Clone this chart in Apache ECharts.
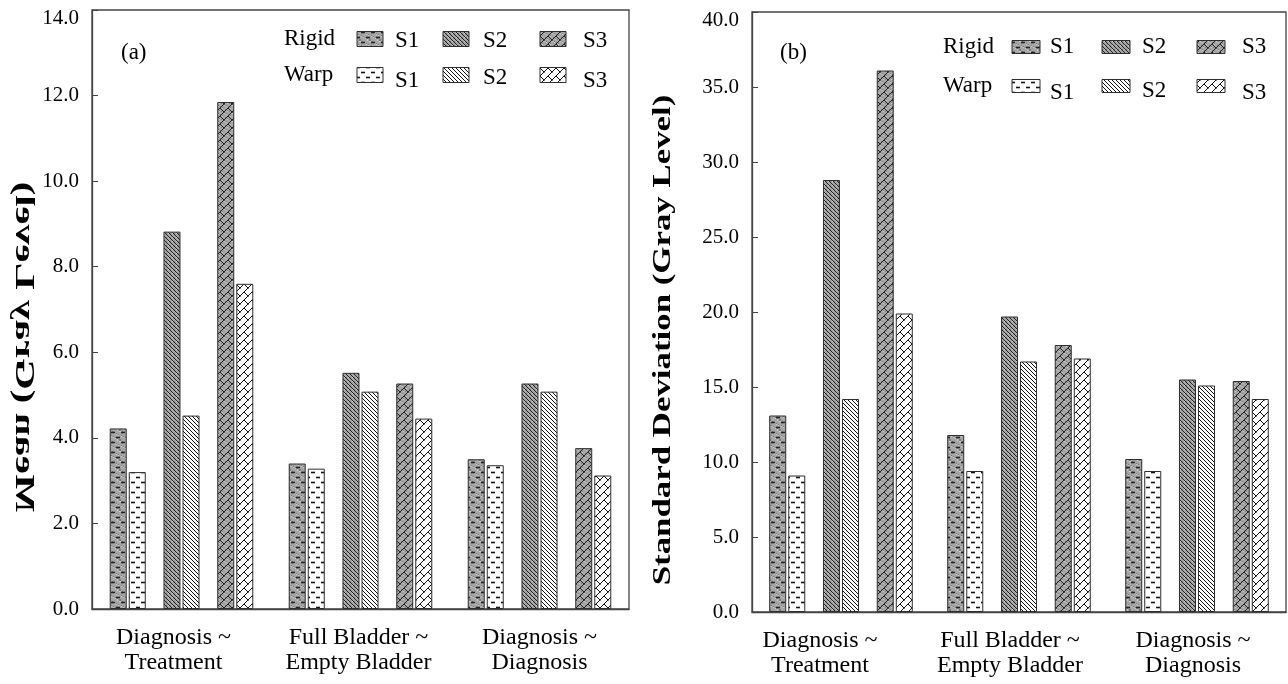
<!DOCTYPE html>
<html>
<head>
<meta charset="utf-8">
<script src="https://cdn.jsdelivr.net/npm/echarts@6/dist/echarts.min.js"></script>
<style>
  html, body { margin: 0; padding: 0; background: #fff; }
  #main { width: 1288px; height: 684px; }
</style>
</head>
<body>
<div id="main"></div>
<script>
// categories on the x axis (both panels)
var categories = ['Diagnosis ~\nTreatment', 'Full Bladder ~\nEmpty Bladder', 'Diagnosis ~\nDiagnosis'];
var setNames = ['S1', 'S2', 'S3'];

// (a) mean gray level
var meanRigidS1 = [4.22, 3.40, 3.50];
var meanWarpS1  = [3.20, 3.28, 3.36];
var meanRigidS2 = [8.82, 5.52, 5.27];
var meanWarpS2  = [4.52, 5.08, 5.08];
var meanRigidS3 = [11.85, 5.27, 3.76];
var meanWarpS3  = [7.60, 4.45, 3.12];

// (b) standard deviation
var sdRigidS1 = [13.1, 11.8, 10.2];
var sdWarpS1  = [9.1, 9.4, 9.4];
var sdRigidS2 = [28.8, 19.7, 15.5];
var sdWarpS2  = [14.2, 16.7, 15.1];
var sdRigidS3 = [36.1, 17.8, 15.4];
var sdWarpS3  = [19.9, 16.9, 14.2];

// axis ranges
var meanTicks = { min: 0, max: 14, interval: 2 };
var sdTicks = { min: 0, max: 40, interval: 5 };

var FONT = '"Liberation Serif", "DejaVu Serif", serif';

// ---- hatch patterns (drawn on small canvases) ----
function tile(w, h, gray, draw) {
  var c = document.createElement('canvas');
  c.width = w; c.height = h;
  var ctx = c.getContext('2d');
  ctx.fillStyle = gray ? '#a6a6a6' : '#ffffff';
  ctx.fillRect(0, 0, w, h);
  if (gray) {
    // stipple texture
    for (var x = 0; x < w; x++) {
      for (var y = 0; y < h; y++) {
        var k = (x * 7 + y * 13) % 9;
        if (k === 0) { ctx.fillStyle = '#7a7a7a'; ctx.fillRect(x, y, 1, 1); }
        else if (k === 4) { ctx.fillStyle = '#cccccc'; ctx.fillRect(x, y, 1, 1); }
      }
    }
  }
  ctx.strokeStyle = gray ? '#222' : '#111';
  ctx.lineWidth = 1;
  draw(ctx);
  return { image: c, repeat: 'repeat' };
}
function seg(ctx, x1, y1, x2, y2) {
  ctx.beginPath(); ctx.moveTo(x1, y1); ctx.lineTo(x2, y2); ctx.stroke();
}
function dashes(ctx) {
  ctx.lineWidth = 1.6;
  seg(ctx, 1, 2.5, 5, 2.5);
  seg(ctx, 6, 7.5, 10, 7.5);
}
function backDiag(ctx) {
  seg(ctx, -1, -1, 5, 5);
  seg(ctx, -1, 3, 1, 5);
  seg(ctx, 3, -1, 5, 1);
}
function bricks(ctx) {
  seg(ctx, -1, 9, 9, -1);
  seg(ctx, -1, 1, 1, -1);
  seg(ctx, 7, 9, 9, 7);
  seg(ctx, 4, 4, 8, 8);
  seg(ctx, 0, 0, 0.5, 0.5);
}
var fills = {
  rigid: [tile(10, 10, true, dashes), tile(4, 4, true, backDiag), tile(8, 8, true, bricks)],
  warp:  [tile(10, 10, false, dashes), tile(4, 4, false, backDiag), tile(8, 8, false, bricks)]
};

// ---- series for one panel ----
function panelSeries(gridIdx, rigid, warp) {
  var out = [];
  for (var i = 0; i < 3; i++) {
    if (i > 0) {
      // empty spacer between the S-pairs
      out.push({ type: 'bar', name: 'gap', xAxisIndex: gridIdx, yAxisIndex: gridIdx,
        data: [null, null, null], barWidth: 14, barGap: '12%', silent: true });
    }
    out.push({ type: 'bar', name: 'Rigid ' + setNames[i], xAxisIndex: gridIdx, yAxisIndex: gridIdx,
      data: rigid[i], barWidth: 17, barGap: '12%',
      itemStyle: { color: fills.rigid[i], borderColor: '#2e2e2e', borderWidth: 1 } });
    out.push({ type: 'bar', name: 'Warp ' + setNames[i], xAxisIndex: gridIdx, yAxisIndex: gridIdx,
      data: warp[i], barWidth: 17, barGap: '12%',
      itemStyle: { color: fills.warp[i], borderColor: '#2e2e2e', borderWidth: 1 } });
  }
  return out;
}

// the printed category labels sit a little left of the band centres
function xAxisOpt(gridIdx, shifts) {
  var rich = {};
  shifts.forEach(function (s, i) {
    rich['c' + i] = { fontFamily: FONT, fontSize: 24, lineHeight: 25, color: '#000', padding: [0, 2 * s, 0, 0] };
  });
  return {
    type: 'category', gridIndex: gridIdx, data: categories,
    axisLine: { lineStyle: { color: '#444', width: 1.3 } },
    axisTick: { inside: true, length: 5, lineStyle: { color: '#444' } },
    axisLabel: {
      interval: 0, color: '#000', fontFamily: FONT, fontSize: 24, lineHeight: 25, margin: 16,
      formatter: function (v, idx) {
        return v.split('\n').map(function (line) { return '{c' + idx + '|' + line + '}'; }).join('\n');
      },
      rich: rich
    }
  };
}
function yAxisOpt(gridIdx, t) {
  return {
    type: 'value', gridIndex: gridIdx, min: t.min, max: t.max, interval: t.interval,
    splitLine: { show: false },
    axisLine: { show: true, lineStyle: { color: '#444', width: 1.3 } },
    axisTick: { show: true, inside: true, length: 6, lineStyle: { color: '#444' } },
    axisLabel: { color: '#000', fontFamily: FONT, fontSize: 21, margin: 13,
      // the top label is printed a bit below the frame corner
      formatter: function (v) { return v === t.max ? '{top|' + v.toFixed(1) + '}' : v.toFixed(1); },
      rich: { top: { fontFamily: FONT, fontSize: 21, color: '#000', padding: [16, 0, 0, 0] } }
    }
  };
}

// legend drawn as graphic items (label column + 3 swatches per row)
function legendBlock(x0, rowY, swX, txtX, sw, txtDy) {
  var g = [];
  var rows = ['Rigid', 'Warp'];
  for (var r = 0; r < 2; r++) {
    g.push({ type: 'text', x: x0, y: rowY[r],
      style: { text: rows[r], font: '23px ' + FONT, fill: '#000', textVerticalAlign: 'middle', verticalAlign: 'middle' } });
    for (var i = 0; i < 3; i++) {
      g.push({ type: 'rect', shape: { x: swX[i], y: rowY[r] - sw[1] / 2, width: sw[0], height: sw[1] },
        style: { fill: (r === 0 ? fills.rigid : fills.warp)[i], stroke: '#2e2e2e', lineWidth: 1 } });
      g.push({ type: 'text', x: txtX[i], y: rowY[r] + txtDy[r][i],
        style: { text: setNames[i], font: '23px ' + FONT, fill: '#000', textVerticalAlign: 'middle', verticalAlign: 'middle' } });
    }
  }
  return g;
}

var graphics = []
  .concat(legendBlock(284, [39, 75], [357, 443, 540], [395, 483, 583], [26, 15],
    [[2, 2, 2], [6, 3, 6]]))
  .concat(legendBlock(943, [47, 86], [1012, 1102, 1197], [1050, 1142, 1242], [28, 13],
    [[0, 0, 0], [7, 5, 7]]))
  .concat([
    { type: 'text', x: 121, y: 53, style: { text: '(a)', font: '23px ' + FONT, fill: '#000', textVerticalAlign: 'middle', verticalAlign: 'middle' } },
    { type: 'text', x: 780, y: 53, style: { text: '(b)', font: '23px ' + FONT, fill: '#000', textVerticalAlign: 'middle', verticalAlign: 'middle' } },
    // left axis title is printed mirrored in the source figure
    { type: 'text', x: 23, y: 347, rotation: Math.PI / 2, scaleX: 1.5, scaleY: -1,
      style: { text: 'Mean (Gray Level)', font: 'bold 27px ' + FONT, fill: '#000',
        textAlign: 'center', align: 'center', textVerticalAlign: 'middle', verticalAlign: 'middle' } },
    { type: 'text', x: 663, y: 340, rotation: Math.PI / 2, scaleX: 1.34,
      style: { text: 'Standard Deviation (Gray Level)', font: 'bold 26px ' + FONT, fill: '#000',
        textAlign: 'center', align: 'center', textVerticalAlign: 'middle', verticalAlign: 'middle' } }
  ]);

var chart = echarts.init(document.getElementById('main'));
chart.setOption({
  animation: false,
  backgroundColor: '#fff',
  grid: [
    { left: 92, top: 10, width: 537, height: 599, show: true, borderColor: '#444', borderWidth: 1.3 },
    { left: 752, top: 12, width: 534, height: 600, show: true, borderColor: '#444', borderWidth: 1.3 }
  ],
  xAxis: [xAxisOpt(0, [8, 2, 0]), xAxisOpt(1, [21, 9, 4])],
  yAxis: [yAxisOpt(0, meanTicks), yAxisOpt(1, sdTicks)],
  series: panelSeries(0, [meanRigidS1, meanRigidS2, meanRigidS3], [meanWarpS1, meanWarpS2, meanWarpS3])
    .concat(panelSeries(1, [sdRigidS1, sdRigidS2, sdRigidS3], [sdWarpS1, sdWarpS2, sdWarpS3])),
  graphic: graphics
});
</script>
</body>
</html>
